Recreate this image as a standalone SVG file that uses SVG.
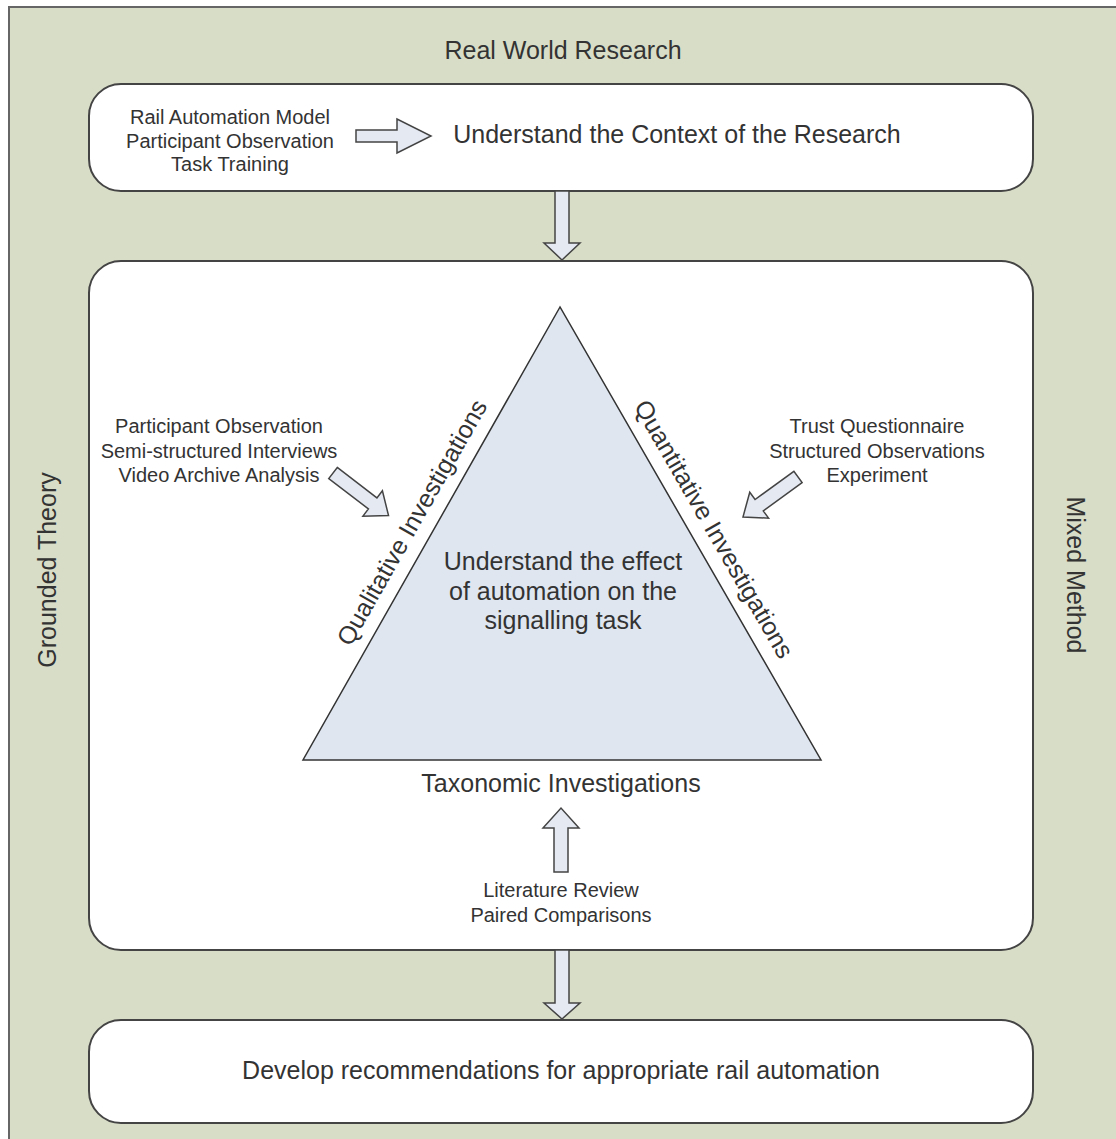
<svg xmlns="http://www.w3.org/2000/svg" width="1116" height="1139" viewBox="0 0 1116 1139">
<style>
.t{font-family:"Liberation Sans",Arial,sans-serif;fill:#333;text-anchor:middle}
.b{font-size:25px}
.s{font-size:20px}
.box{fill:#fff;stroke:#444;stroke-width:2}
.arr{fill:#e4e9f2;stroke:#444;stroke-width:1.5;stroke-linejoin:miter}
</style>
<rect width="1116" height="1139" fill="#fff"/>
<g id="frame">
<rect x="9" y="7" width="1140" height="1160" fill="#d8ddc7" stroke="#666" stroke-width="2"/>
<text class="t b" x="563" y="59">Real World Research</text>
<text class="t b" transform="translate(56,570) rotate(-90)">Grounded Theory</text>
<text class="t b" transform="translate(1067,575) rotate(90)">Mixed Method</text>
</g>
<g id="context">
<rect class="box" x="89" y="84" width="944" height="107" rx="32"/>
<text class="t s" x="230" y="124">Rail Automation Model</text>
<text class="t s" x="230" y="147.5">Participant Observation</text>
<text class="t s" x="230" y="171">Task Training</text>
<text class="t b" x="677" y="143">Understand the Context of the Research</text>
</g>
<g id="main">
<rect class="box" x="89" y="261" width="944" height="689" rx="32"/>
</g>
<g id="triangle">
<polygon points="560,307 303,760 821,760" fill="#dfe6f0" stroke="#333" stroke-width="1.5"/>
<text class="t b" x="563" y="570">Understand the effect</text>
<text class="t b" x="563" y="600">of automation on the</text>
<text class="t b" x="563" y="629">signalling task</text>
<text class="t b" transform="translate(419.3,526.6) rotate(-60.4)">Qualitative Investigations</text>
<text class="t b" transform="translate(706.6,533.4) rotate(60.05)">Quantitative Investigations</text>
<text class="t b" x="561" y="792">Taxonomic Investigations</text>
</g>
<g id="qual-methods">
<text class="t s" x="219" y="433">Participant Observation</text>
<text class="t s" x="219" y="458">Semi-structured Interviews</text>
<text class="t s" x="219" y="482">Video Archive Analysis</text>
</g>
<g id="quant-methods">
<text class="t s" x="877" y="433">Trust Questionnaire</text>
<text class="t s" x="877" y="458">Structured Observations</text>
<text class="t s" x="877" y="482">Experiment</text>
</g>
<g id="tax-methods">
<text class="t s" x="561" y="897">Literature Review</text>
<text class="t s" x="561" y="922">Paired Comparisons</text>
</g>
<g id="recommend">
<rect class="box" x="89" y="1020" width="944" height="103" rx="32"/>
<text class="t b" x="561" y="1079">Develop recommendations for appropriate rail automation</text>
</g>
<g id="connectors">
<path class="arr" transform="translate(356,136)" d="M0,-6 H41 V-17 L75,0 L41,17 V6 H0 Z"/>
<path class="arr" transform="translate(562,191) rotate(90)" d="M0,-7 H52 V-18 L69,0 L52,18 V7 H0 Z"/>
<path class="arr" transform="translate(562,950) rotate(90)" d="M0,-7 H53 V-18 L69,0 L53,18 V7 H0 Z"/>
<path class="arr" transform="translate(561,872) rotate(-90)" d="M0,-7 H44 V-18 L64,0 L44,18 V7 H0 Z"/>
<path class="arr" transform="translate(333,473) rotate(37.5)" d="M0,-7 H50 V-16 L70,0 L50,16 V7 H0 Z"/>
<path class="arr" transform="translate(798,477) rotate(144)" d="M0,-7 H48 V-16 L68,0 L48,16 V7 H0 Z"/>
</g>
</svg>
